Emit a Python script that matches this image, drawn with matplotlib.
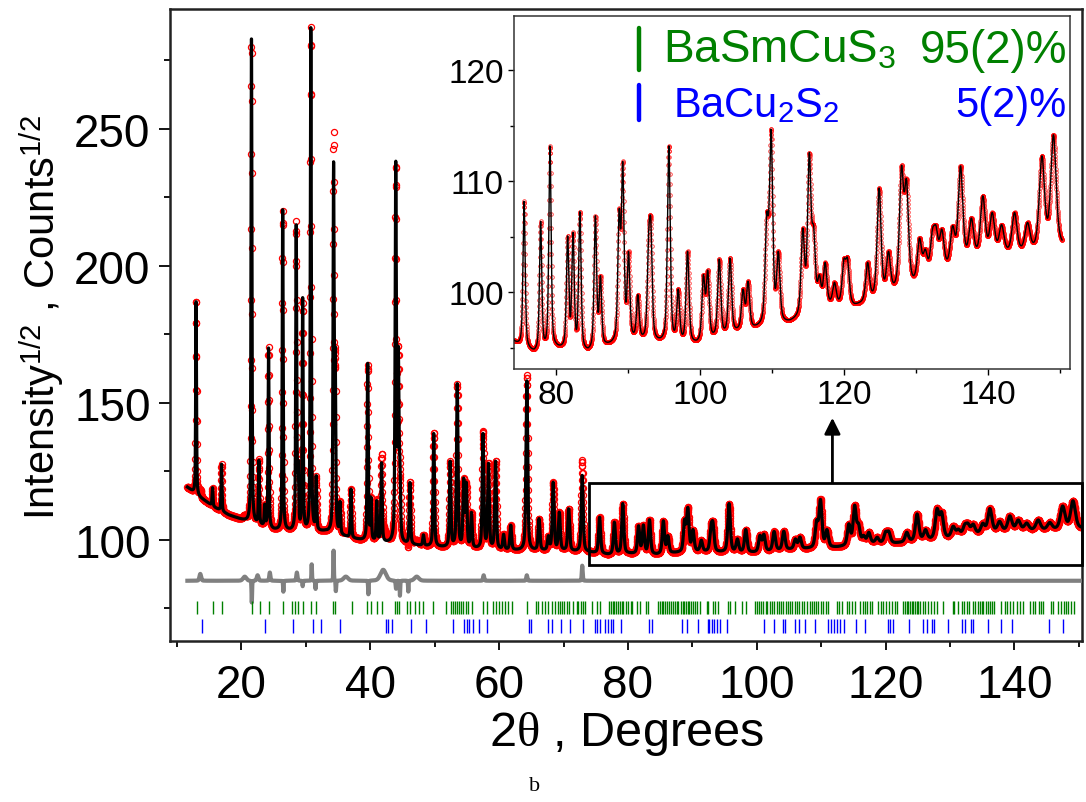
import numpy as np
import matplotlib
matplotlib.use("Agg")
import matplotlib.pyplot as plt
from matplotlib.ticker import MultipleLocator
from matplotlib.patches import Rectangle
from matplotlib.lines import Line2D

plt.rcParams['font.family'] = ['Liberation Sans', 'DejaVu Sans']
plt.rcParams['mathtext.fontset'] = 'custom'
plt.rcParams['mathtext.rm'] = 'Liberation Sans'
plt.rcParams['mathtext.it'] = 'Liberation Serif'

# ---------------- data ----------------
# reflections of the refined profile: 2theta position and top value (sqrt counts)
peak_pos = [12.95, 15.5, 16.9, 21.55, 22.7, 23.6, 24.2, 26.4, 28.5, 28.8, 29.5, 30.76, 31.6,
            34.3, 34.55, 35.3, 37.0, 39.6, 40.1, 41.0, 41.75, 43.95, 44.35, 44.6, 46.15, 48.25,
            49.85, 52.4, 53.5, 54.5, 54.9, 55.7, 57.5, 58.35, 59.45, 60.7, 61.8, 64.3, 66.2,
            67.65, 68.4, 69.35, 70.8, 72.9,
            75.6, 77.9, 79.2, 81.65, 82.4, 83.35, 85.5, 86.2, 88.8, 89.3, 90.1, 91.4, 92.9, 93.2,
            95.7, 97.0, 98.3, 100.5, 101.1, 102.7, 104.2, 106.0, 106.7, 109.3, 109.9, 110.9,
            114.3, 115.2, 115.8, 116.6, 117.4, 118.7, 120.0, 120.5, 123.3, 124.9, 126.2, 128.0,
            128.7, 130.5, 131.3, 132.3, 132.8, 133.6, 135.1, 136.2, 137.7, 139.3, 140.6, 141.9,
            143.7, 145.5, 147.5, 149.1]
peak_top = [188, 119, 127.6, 285, 129, 113, 170, 220.5, 215, 129, 188.4, 287, 123.4,
            238, 170, 114, 118.5, 164.4, 115.6, 114.3, 128.3, 239, 171, 129.5, 121, 101.8,
            139, 128.7, 157, 122.5, 121, 110, 138.8, 128, 128.8, 102, 105.3, 158, 107.7,
            101.5, 121, 110.1, 111.3, 123.5,
            108.2, 106.4, 113.2, 105.1, 105.4, 107.3, 106.9, 101.5, 107.5, 111.8, 103.7, 99.8, 105.5, 106.5,
            113.2, 100.3, 103.7, 101.6, 102, 103, 103.1, 100.3, 101, 107.2, 114.7, 103.7,
            105.8, 112.6, 106, 101.6, 102.7, 100.9, 103, 103.1, 102.7, 109.4, 103.7, 111.4,
            110.2, 104.9, 103.9, 105.7, 106, 105.7, 106, 111.4, 106.7, 108.7, 107.2, 106.1,
            107.2, 106.3, 112.3, 114.2]

# background level read between the peaks
bg_pos = [11.5, 13.5, 16, 18, 20, 22, 25, 30, 33, 37, 40, 45, 50, 55, 60, 65, 70, 74,
          77, 80, 84.5, 87, 91, 94.5, 99.6, 105.3, 108, 112.5, 118.2, 121.5, 125, 129.5,
          134, 138, 142, 146, 150.5]
bg_val = [119.3, 115.5, 111.5, 109.0, 107.3, 105.8, 103.5, 102.6, 102.8, 100.4, 99.2, 98.2, 97.3,
          96.7, 96.1, 95.9, 95.8, 95.3, 94.4, 94.8, 94.4, 95.0, 95.5, 95.3, 95.2, 96.3,
          96.6, 97.1, 98.6, 98.6, 99.3, 100.3, 101.7, 102.8, 103.2, 103.4, 104.0]

# peak width (FWHM, degrees) read at a few angles
fwhm_pos = [10, 40, 80, 120, 150]
fwhm_val = [0.14, 0.21, 0.38, 0.58, 0.88]

# difference curve (Yobs - Ycalc, drawn around 85)
diff_zero = 85.0
diff_pos = [13.6, 20.5, 21.6, 22.5, 24.4, 26.5, 28.6, 29.5, 30.9, 31.5, 34.3, 34.65, 36.2,
            39.7, 42.0, 44.0, 44.6, 45.9, 47.2, 57.6, 64.3, 72.9]
diff_amp = [2.5, 1.5, -8, 2, 3, -4, 3, -2, 6, -3, 11, -4, 1.5,
            -5, 4, -3, -5.5, -4, 1.5, 2, 2, 5.5]
diff_fw = [0.3, 0.6, 0.1, 0.3, 0.2, 0.1, 0.2, 0.1, 0.1, 0.1, 0.1, 0.1, 0.8,
           0.1, 1.0, 0.15, 0.1, 0.1, 0.8, 0.2, 0.2, 0.15]

# Bragg reflection markers
green_ticks = [13.05, 15.64, 16.93, 21.6, 22.8, 24.34, 26.4, 27.8, 28.3, 28.84, 29.5, 30.76, 31.58,
               34.27, 34.53, 37.1, 39.56, 40.12, 41.0, 41.8, 43.85, 44.1, 44.5, 45.76, 46.2, 46.96,
               47.5, 48.25, 49.8, 51.8, 52.5, 52.8, 53.17, 53.43, 53.74, 54.05, 54.46, 54.88,
               55.23, 55.76, 57.56, 58.18, 59.1, 59.5, 60.05, 60.4, 60.93, 61.45, 61.97, 64.4,
               65.75, 66.1, 66.63, 67.14, 67.66, 68.18, 68.7, 69.2, 69.47,
               69.73, 70.09, 70.5, 70.92, 71.54, 72.06, 72.32, 72.68, 73.0, 73.35, 74.39, 75.27,
               75.68, 77.13, 77.39, 77.65, 77.91, 78.17, 78.53, 78.79, 79.05, 79.3, 79.67, 80.08,
               80.44, 80.6, 81.48, 81.89, 82.82, 83.19, 84.64, 85.0, 85.26, 85.52, 85.77, 86.03,
               86.4, 86.7, 87.07, 87.33, 87.59, 87.84, 88.2, 88.52, 88.78, 89.04, 89.3, 89.55,
               89.81, 90.07, 90.43, 90.8, 91.21, 92.24, 92.5, 93.28, 93.54, 94.06, 95.5, 95.87,
               96.64, 97.68, 98.3, 99.75, 100.0, 100.37, 100.68, 101.04, 101.4, 101.66, 102.08,
               102.44, 102.75, 103.11, 103.48, 103.79, 104.15, 104.51, 104.82, 105.19, 105.55,
               105.96, 106.32, 106.63, 107.0, 107.41, 107.88, 108.29,
               108.55, 108.91, 109.22, 109.58, 109.95, 110.36, 110.77, 111.14, 112.43, 112.84,
               113.21, 113.98, 114.4, 114.76, 115.28, 116.05, 116.47, 116.83, 117.19, 117.61,
               117.87, 118.9, 119.26, 119.68, 120.09, 120.56, 120.97, 121.49, 121.85, 122.68,
               123.04, 123.3, 123.56, 123.82, 124.08, 124.33, 124.59, 124.85, 125.11, 125.37,
               125.79, 126.15, 126.66, 127.03, 127.54, 128.06, 128.99, 130.44, 130.7, 131.32,
               131.84, 132.2, 132.62, 133.03, 133.55, 133.91, 134.43, 134.69, 134.95, 135.2,
               135.62, 135.98, 136.24, 136.5, 136.76, 137.9, 138.57, 138.93, 139.35, 139.86,
               140.38, 140.9, 141.31, 142.45, 142.87, 143.23, 143.75, 144.11, 144.52, 145.66,
               145.97, 146.85, 147.21, 147.63, 148.04, 148.4, 148.77, 149.28]
blue_ticks = [13.83, 23.66, 28.06, 31.07, 32.3, 35.3, 42.45, 42.8, 43.33, 46.3, 48.66, 52.8,
              54.6, 55.0, 55.4, 56.0, 56.95, 58.1, 64.7, 64.9, 67.66, 68.18, 69.58, 71.0, 73.0,
              74.9, 75.27, 75.68, 76.46, 76.97, 77.34, 77.65, 78.89, 83.34, 83.7, 88.36, 89.14,
              90.95, 92.4, 92.66, 93.02, 93.38, 93.8, 94.3, 95.35, 101.15, 102.7, 104.05,
              104.41, 105.96, 106.63, 107.5, 109.07, 111.14, 111.5, 112.02, 112.43, 112.95,
              113.57, 115.43, 116.83, 120.45, 120.71, 121.13, 123.71, 125.79, 126.4, 127.18,
              127.54, 129.77, 131.84, 132.36, 133.24, 133.55, 135.98, 137.9, 139.6, 145.3, 147.52]

scan_start, scan_end, scan_step = 11.6, 150.3, 0.02

# ---------------- profile built from the readings ----------------
def pv(x, x0, fw, eta=0.5):
    d = 2.0 * (x - x0) / fw
    return eta / (1.0 + d * d) + (1.0 - eta) * np.exp(-np.log(2.0) * d * d)

tt = np.arange(scan_start, scan_end + 1e-9, scan_step)
pos = np.array(peak_pos)
top = np.array(peak_top)
fw = np.interp(pos, fwhm_pos, fwhm_val)
M = pv(pos[:, None], pos[None, :], fw[None, :])
amp = np.linalg.solve(M, top - np.interp(pos, bg_pos, bg_val))
amp = np.clip(amp, 0, None)
calc = np.interp(tt, bg_pos, bg_val) + (pv(tt[:, None], pos[None, :], fw[None, :]) * amp).sum(axis=1)
dres = (pv(tt[:, None], np.array(diff_pos)[None, :], np.array(diff_fw)[None, :], 0.3)
        * np.array(diff_amp)).sum(axis=1)
diff = diff_zero + dres
obs = calc + dres

# ---------------- figure ----------------
W, H = 1086, 803
fig = plt.figure(figsize=(W / 100, H / 100), dpi=100)

def fx(px):
    return px / W

def fy(py):
    return 1 - py / H

ax = fig.add_axes([fx(170), fy(642), fx(1082) - fx(170), fy(10) - fy(642)])
ax.plot(tt, obs, 'o', mfc='none', mec='red', ms=4.4, mew=0.9, zorder=2)
ax.plot(tt, calc, '-', color='black', lw=2.3, zorder=3)
ax.plot(tt, diff, '-', color='#808080', lw=3.0, zorder=3)
ax.vlines(green_ticks, 73.0, 77.7, color='#008000', lw=1.0, zorder=3)
ax.vlines(blue_ticks, 66.0, 71.2, color='#0000ff', lw=1.0, zorder=3)

ax.set_xlim(8.9, 150.5)
ax.set_ylim(63.0, 293.8)
ax.xaxis.set_major_locator(MultipleLocator(20))
ax.xaxis.set_minor_locator(MultipleLocator(10))
ax.yaxis.set_major_locator(MultipleLocator(50))
ax.yaxis.set_minor_locator(MultipleLocator(25))
ax.set_yticks([100, 150, 200, 250])
ax.tick_params(which='major', direction='out', length=8, width=1.3, labelsize=33, pad=6)
ax.tick_params(which='minor', direction='out', length=4.5, width=1.3)
ax.tick_params(axis='x', which='major', length=6.5, pad=9)
ax.tick_params(axis='x', which='minor', length=4)
for s in ax.spines.values():
    s.set_linewidth(1.8)
    s.set_color('#222222')

# zoom box and arrow
ax.add_patch(Rectangle((74.0, 90.6), 150.5 - 74.0, 120.8 - 90.6, fill=False,
                       ec='black', lw=2.0, zorder=5, clip_on=False))
ax.annotate('', xy=(111.75, 144.5), xytext=(111.75, 120.8),
            arrowprops=dict(arrowstyle='-|>', color='black', lw=2.0,
                            mutation_scale=24, shrinkA=0, shrinkB=0), zorder=5)

# inset
axi = fig.add_axes([fx(514), fy(370), fx(1070) - fx(514), fy(17) - fy(370)])
axi.plot(tt, obs, 'o', mfc='none', mec='red', ms=2.6, mew=0.6, alpha=0.8, zorder=2)
axi.plot(tt, calc, '-', color='black', lw=1.0, zorder=3)
axi.set_xlim(74.2, 151.4)
axi.set_ylim(93.1, 124.9)
axi.xaxis.set_major_locator(MultipleLocator(20))
axi.xaxis.set_minor_locator(MultipleLocator(10))
axi.yaxis.set_major_locator(MultipleLocator(10))
axi.yaxis.set_minor_locator(MultipleLocator(5))
axi.set_xticks([80, 100, 120, 140])
axi.set_yticks([100, 110, 120])
axi.tick_params(which='major', direction='out', length=4.5, width=1.0, labelsize=24, pad=3)
axi.tick_params(which='minor', direction='out', length=3, width=1.0)
for s in axi.spines.values():
    s.set_linewidth(1.1)
    s.set_color('#333333')

# phase legend
fig.add_artist(Line2D([fx(639), fx(639)], [fy(29), fy(71)], color='#008000', lw=3.2,
                      solid_capstyle='round'))
fig.add_artist(Line2D([fx(639), fx(639)], [fy(86), fy(121)], color='#0000ff', lw=3.2,
                      solid_capstyle='round'))
fig.text(fx(663), fy(63), 'BaSmCuS$_\\mathregular{3}$', color='#008000', fontsize=33,
         ha='left', va='baseline')
fig.text(fx(1067), fy(63), '95(2)%', color='#008000', fontsize=33, ha='right', va='baseline')
fig.text(fx(673), fy(117), 'BaCu$_\\mathregular{2}$S$_\\mathregular{2}$', color='#0000ff',
         fontsize=30, ha='left', va='baseline')
fig.text(fx(1067), fy(117), '5(2)%', color='#0000ff', fontsize=30, ha='right', va='baseline')

# axis titles
fig.text(fx(42), fy(318), 'Intensity$^{\\mathregular{1/2}}$ , Counts$^{\\mathregular{1/2}}$',
         rotation=90, fontsize=30, ha='center', va='center')
fig.text(fx(626), fy(734), '2$\\theta$ , Degrees', fontsize=35, ha='center', va='center')
fig.text(fx(535), fy(787), 'b', family='Liberation Serif', fontsize=16, ha='center', va='center')

fig.savefig('out.png', dpi=100)
